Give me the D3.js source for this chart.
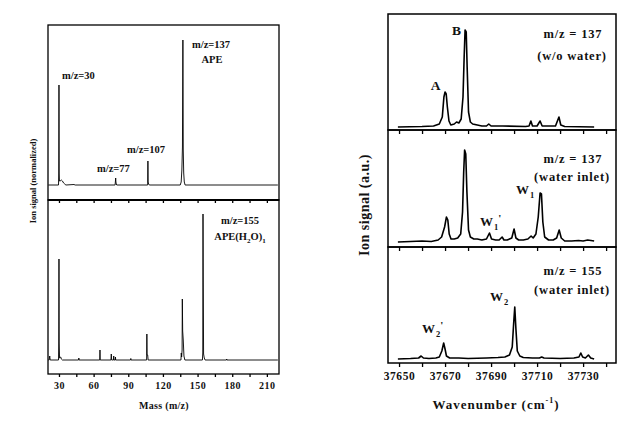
<!DOCTYPE html>
<html><head><meta charset="utf-8">
<script src="https://cdn.jsdelivr.net/npm/d3@7"></script>
<style>
body{margin:0;background:#fff;}
svg{display:block;}
text{font-family:"Liberation Serif","Times New Roman",serif;font-weight:bold;fill:#111;}
</style></head><body>
<svg id="c" width="633" height="425"></svg>
<script>
// ---------- DATA ----------
const massTicksMajor = [30, 60, 90, 120, 150, 180, 210];
const massTicksMinor = [45, 75, 105, 135, 165, 195];
const wnTicksMajor = [37650, 37670, 37690, 37710, 37730];
const wnTicksMinor = [37660, 37680, 37700, 37720, 37740];

// mass spectrum, APE monomer channel (m/z, relative signal)
const massTop = [[20.8,0],[29.6,0],[29.8,12],[30.0,100],[30.2,12],[30.4,4],[31,4],[32,5],[33,4],[34,2],[35,1],[36,0],[43,0.5],[44,0],
  [78.6,0],[78.9,4],[79.1,7],[79.3,3],[79.6,1],[80,0],[106.8,0],[107.0,24],[107.2,3],[107.6,1],[108.2,0],
  [135,0],[135.8,3],[136.4,15],[136.9,38],[137.3,145],[137.6,35],[138,12],[138.5,3],[139.2,0],[219.5,0]];
// mass spectrum, APE(H2O)1 channel
const massBottom = [[20.8,0],[21.5,0],[22,4],[22.4,0],[29.6,0],[29.8,17],[30.0,101],[30.2,17],[30.5,2],[31.5,3],[32,1],[33,0],
  [47,0],[47.2,2],[47.4,0],[65.3,0],[65.5,10],[65.7,0],[75,0],[75.3,6],[75.6,0],[77.2,0],[77.4,4],[77.6,0],[78.7,0],[78.9,3],[79.1,0],
  [92,0],[92.2,1.5],[92.4,0],[105.9,0],[106.1,26],[106.3,5],[106.8,5],[107.2,0],
  [135.6,0],[135.9,7],[136.2,3],[136.6,10],[136.8,61],[137.1,29],[137.6,20],[138.2,4],[139,0],
  [154.2,0],[154.5,7],[154.7,146],[154.9,83],[155.2,6],[155.8,2],[156.5,0],[175,0],[175.2,1],[175.4,0],[219.5,0]];

// REMPI spectra (wavenumber, signal a.u.)
const wnNoWater = [[37649.5,0],[37660,0.5],[37665,1],[37667.5,3],[37668.8,10],[37669.5,30],[37670,35],[37670.5,33],[37671,20],[37671.7,6],[37672.5,2],
  [37674,3],[37675,5],[37676,4],[37677,8],[37677.8,30],[37678.3,70],[37678.7,97],[37679.2,95],[37679.6,60],[37680.2,15],[37681,5],[37682,3],
  [37684,2],[37686,1],[37688,1],[37689,3],[37690,1],[37695,1],[37705,0.5],[37706.5,1],[37707.3,6],[37708,1],[37710,1],[37711.3,6],[37712.2,1],
  [37718,1],[37719.5,10],[37720.3,2],[37722,0.5],[37734.8,0]];
const wnWater137 = [[37649.5,0],[37655,0.5],[37660,1],[37664,0.5],[37667,2],[37668.5,5],[37669.8,15],[37670.6,25],[37671.2,22],[37671.8,8],[37672.6,3],
  [37674,3],[37675.5,4],[37676.8,8],[37677.6,30],[37678.1,70],[37678.5,92],[37679,88],[37679.5,50],[37680.2,12],[37681,5],[37682.5,3],
  [37684,3],[37686,2],[37688,3],[37689.3,9],[37690.2,3],[37692,2],[37693.5,2],[37694.8,5],[37695.6,2],[37697,2],[37699,4],[37700,13],[37700.8,4],
  [37702,2],[37704,2],[37706,3],[37707.4,6],[37708.3,4],[37709.5,8],[37710.5,25],[37711.3,49],[37711.9,48],[37712.5,20],[37713.3,5],
  [37715,2],[37717,2],[37718.5,4],[37719.6,12],[37720.5,4],[37722,1],[37725,1],[37728,1.5],[37730,1],[37732,2],[37734.8,1]];
const wnWater155 = [[37649.5,0],[37655,0.5],[37658.5,1],[37659.6,3],[37660.6,1],[37663,0.5],[37666,1],[37667.5,2],[37668.6,8],[37669.4,16],[37670,10],
  [37670.6,3],[37672,1],[37676,1],[37680,0.5],[37688,1],[37693,1.5],[37696,2],[37698,4],[37699.2,12],[37699.8,35],[37700.3,52],[37700.8,30],
  [37701.4,8],[37702.5,3],[37704,1.5],[37708,1],[37711,1],[37712,2],[37713,1],[37720,0.5],[37726,1],[37728.2,2],[37729,6],[37729.8,2],
  [37731,1],[37732.3,4],[37733.3,1],[37734.8,0]];

// ---------- DRAW ----------
const svg = d3.select("#c");

function frame(x0, y0, x1, y1, sw) {
  svg.append("rect").attr("x", x0).attr("y", y0).attr("width", x1 - x0).attr("height", y1 - y0)
    .attr("fill", "none").attr("stroke", "#000").attr("stroke-width", sw);
}
function tickRow(scale, y, vals, len, labels, fs, ls) {
  const ax = d3.axisBottom(scale).tickValues(vals).tickSizeInner(len).tickSizeOuter(0);
  if (!labels) ax.tickFormat("");
  else ax.tickFormat(d3.format("d")).tickPadding(5);
  const g = svg.append("g").attr("transform", `translate(0,${y})`).call(ax);
  g.select(".domain").remove();
  g.selectAll("line").attr("stroke", "#000").attr("stroke-width", 1.3);
  g.selectAll("text").attr("font-family", null).attr("font-size", fs).attr("letter-spacing", ls || 0).attr("fill", "#111");
  return g;
}

// ----- left: mass spectra -----
const LX0 = 48, LX1 = 279;
const xm = d3.scaleLinear().domain([20.5, 220.5]).range([LX0, LX1]);
const yTop = d3.scaleLinear().domain([0, 100]).range([185, 85]);
const yBot = d3.scaleLinear().domain([0, 100]).range([360, 260]);
const lineM = (ys) => d3.line().x(d => xm(d[0])).y(d => ys(d[1]));
svg.append("path").datum(massTop).attr("d", lineM(yTop)).attr("fill", "none").attr("stroke", "#000").attr("stroke-width", 0.9);
svg.append("path").datum(massBottom).attr("d", lineM(yBot)).attr("fill", "none").attr("stroke", "#000").attr("stroke-width", 0.9);
frame(LX0, 25, LX1, 200, 1.3);
frame(LX0, 200, LX1, 374, 1.3);
svg.append("line").attr("x1", LX0).attr("x2", LX1).attr("y1", 200).attr("y2", 200).attr("stroke", "#000").attr("stroke-width", 2);
tickRow(xm, 200, massTicksMajor.concat(massTicksMinor), 3, false);
tickRow(xm, 374, massTicksMinor, 3, false);
tickRow(xm, 374, massTicksMajor, 3, true, 10, 0.5);

const lt = (x, y, s, fs, anchor) => svg.append("text").attr("x", x).attr("y", y).attr("font-size", fs).attr("text-anchor", anchor || "start").text(s);
lt(62, 79, "m/z=30", 10.5);
lt(97, 172, "m/z=77", 10.5);
lt(127, 153, "m/z=107", 10.5);
lt(192, 48, "m/z=137", 10.5);
lt(212, 63, "APE", 10.5, "middle");
lt(240, 224, "m/z=155", 10.5, "middle");
{
  const t = svg.append("text").attr("x", 240).attr("y", 240).attr("font-size", 10.5).attr("text-anchor", "middle");
  t.append("tspan").text("APE(H");
  t.append("tspan").attr("font-size", 7).attr("dy", 3).text("2");
  t.append("tspan").attr("dy", -3).text("O)");
  t.append("tspan").attr("font-size", 7).attr("dy", 3).text("1");
}
lt(164, 409, "Mass (m/z)", 10, "middle").attr("letter-spacing", 0.3);
svg.append("text").attr("transform", "translate(36,181) rotate(-90)").attr("text-anchor", "middle")
  .attr("font-size", 8.5).attr("fill", "#333").text("Ion signal (normalized)");

// ----- right: REMPI spectra -----
const RX0 = 388, RX1 = 616;
const xw = d3.scaleLinear().domain([37645.2, 37744.3]).range([RX0, RX1]);
const panels = [
  { top: 14, bot: 130, base: 127, data: wnNoWater },
  { top: 130, bot: 247, base: 242, data: wnWater137 },
  { top: 247, bot: 363, base: 359, data: wnWater155 }
];
panels.forEach(p => {
  const ys = d3.scaleLinear().domain([0, 100]).range([p.base, p.base - 100]);
  svg.append("path").datum(p.data)
    .attr("d", d3.line().x(d => xw(d[0])).y(d => ys(d[1])))
    .attr("fill", "none").attr("stroke", "#000").attr("stroke-width", 1.6).attr("stroke-linejoin", "round");
  frame(RX0, p.top, RX1, p.bot, 1.5);
});
tickRow(xw, 130, wnTicksMajor.concat(wnTicksMinor), 4, false);
tickRow(xw, 247, wnTicksMajor.concat(wnTicksMinor), 4, false);
tickRow(xw, 363, wnTicksMinor, 4, false);
tickRow(xw, 363, wnTicksMajor, 4, true, 11.5, 0.6);

const rt = (x, y, s, fs, anchor) => svg.append("text").attr("x", x).attr("y", y).attr("font-size", fs)
  .attr("text-anchor", anchor || "middle").attr("letter-spacing", 0.8).text(s);
rt(573, 38, "m/z = 137", 12.5);
rt(572, 60, "(w/o water)", 12.5);
rt(573, 163, "m/z = 137", 12.5);
rt(572, 181, "(water inlet)", 12.5);
rt(573, 275, "m/z = 155", 12.5);
rt(572, 294, "(water inlet)", 12.5);
rt(457, 35, "B", 13.5);
rt(436, 90, "A", 13.5);
function wLabel(x, y, sub, prime) {
  const t = svg.append("text").attr("x", x).attr("y", y).attr("font-size", 13).attr("text-anchor", "start");
  t.append("tspan").text("W");
  t.append("tspan").attr("font-size", 8.5).attr("dy", 4).attr("dx", 1).text(sub);
  if (prime) t.append("tspan").attr("dy", -8).attr("font-size", 11).text("'");
}
wLabel(516, 194, "1", false);
wLabel(480, 226, "1", true);
wLabel(490, 301, "2", false);
wLabel(422, 333, "2", true);
{
  const t = svg.append("text").attr("x", 496).attr("y", 409).attr("font-size", 13).attr("text-anchor", "middle").attr("letter-spacing", 1);
  t.append("tspan").text("Wavenumber (cm");
  t.append("tspan").attr("font-size", 8).attr("dy", -6).text("-1");
  t.append("tspan").attr("dy", 6).text(")");
}
svg.append("text").attr("transform", "translate(369,205) rotate(-90)").attr("text-anchor", "middle")
  .attr("font-size", 14).attr("letter-spacing", 0.5).text("Ion signal (a.u.)");
</script>
</body></html>
